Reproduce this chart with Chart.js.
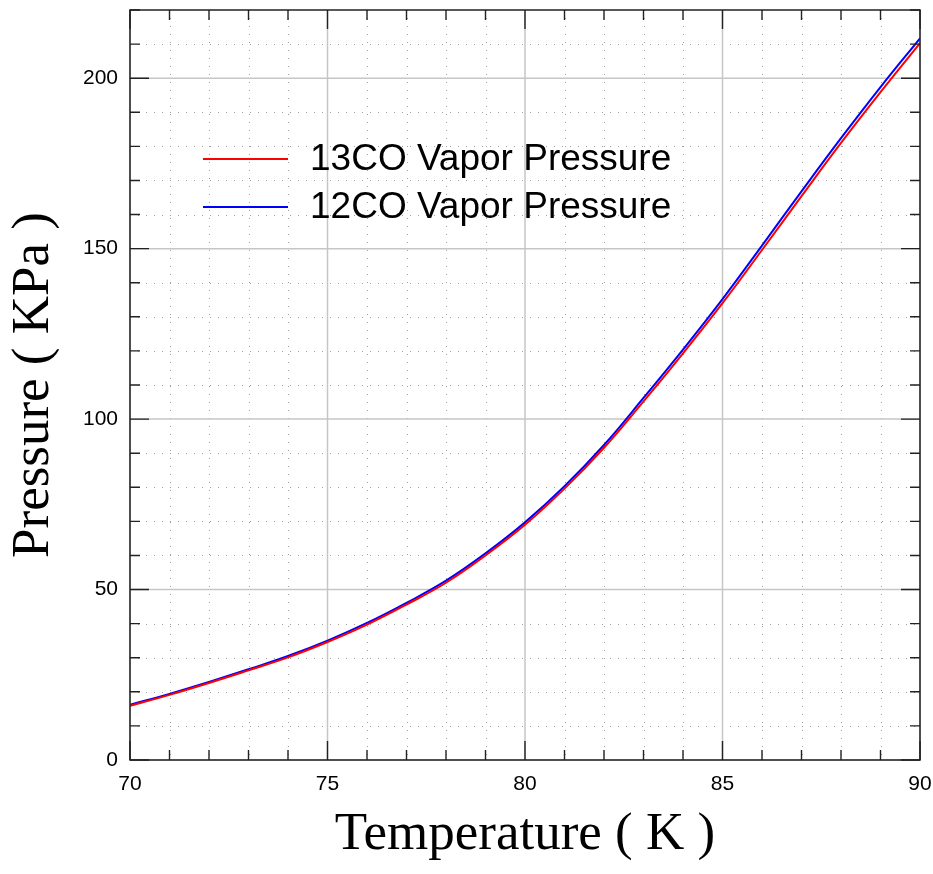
<!DOCTYPE html>
<html>
<head>
<meta charset="utf-8">
<script src="https://cdn.jsdelivr.net/npm/chart.js@4"></script>
<style>
  html, body { margin: 0; padding: 0; background: #fff; overflow: hidden; }
  #wrap { width: 933px; height: 874px; }
</style>
</head>
<body>
<div id="wrap"><canvas id="vp"></canvas></div>
<script>
// temperatures (K) and vapour pressures (kPa)
const temps = [70, 71, 72, 73, 74, 75, 76, 77, 78, 79, 80, 81, 82, 83, 84, 85, 86, 87, 88, 89, 90];
const co13 = [15.9, 19.1, 22.6, 26.3, 30.1, 34.6, 39.7, 45.6, 52.0, 60.0, 69.0, 79.6, 91.6, 105.2, 119.3, 134.0, 149.6, 165.4, 181.0, 195.9, 210.3];
const co12 = [16.2, 19.4, 22.9, 26.6, 30.5, 35.0, 40.2, 46.1, 52.6, 60.6, 69.7, 80.3, 92.4, 106.2, 120.4, 135.2, 150.9, 166.8, 182.4, 197.4, 211.7];
const seriesNames = ['13CO Vapor Pressure', '12CO Vapor Pressure'];
const xTicks = [70, 75, 80, 85, 90];
const yTicks = [0, 50, 100, 150, 200];

const sans = "'Liberation Sans', Arial, sans-serif";
const serif = "'Liberation Serif', 'Times New Roman', serif";

// minor/major grid, inward ticks on all four sides, frame
const frame = {
    id: 'frame',
    beforeDatasetsDraw(chart) {
        const {ctx, chartArea: a, scales: {x, y}} = chart;
        ctx.save();
        // dotted minor grid
        ctx.strokeStyle = '#a0a0a0';
        ctx.lineWidth = 1;
        ctx.setLineDash([1, 7]);
        for (let t = 71; t < 90; t++) {
            if (t % 5 === 0) continue;
            const px = Math.round(x.getPixelForValue(t)) + 0.5;
            ctx.beginPath(); ctx.moveTo(px, a.top); ctx.lineTo(px, a.bottom); ctx.stroke();
        }
        for (let v = 10; v < 220; v += 10) {
            if (v % 50 === 0) continue;
            const py = Math.round(y.getPixelForValue(v)) + 0.5;
            ctx.beginPath(); ctx.moveTo(a.left, py); ctx.lineTo(a.right, py); ctx.stroke();
        }
        // solid major grid
        ctx.setLineDash([]);
        ctx.strokeStyle = '#c6c6c6';
        ctx.lineWidth = 1.5;
        xTicks.forEach(t => {
            const px = x.getPixelForValue(t);
            ctx.beginPath(); ctx.moveTo(px, a.top); ctx.lineTo(px, a.bottom); ctx.stroke();
        });
        yTicks.forEach(v => {
            const py = y.getPixelForValue(v);
            ctx.beginPath(); ctx.moveTo(a.left, py); ctx.lineTo(a.right, py); ctx.stroke();
        });
        ctx.restore();
    },
    afterDatasetsDraw(chart) {
        const {ctx, chartArea: a, scales: {x, y}} = chart;
        ctx.save();
        ctx.strokeStyle = '#222';
        ctx.lineWidth = 1.4;
        for (let t = 70; t <= 90; t++) {
            const len = t % 5 === 0 ? 19 : 10;
            const px = x.getPixelForValue(t);
            ctx.beginPath();
            ctx.moveTo(px, a.bottom); ctx.lineTo(px, a.bottom - len);
            ctx.moveTo(px, a.top); ctx.lineTo(px, a.top + len);
            ctx.stroke();
        }
        for (let v = 0; v <= 220; v += 10) {
            const len = v % 50 === 0 ? 19 : 10;
            const py = y.getPixelForValue(v);
            ctx.beginPath();
            ctx.moveTo(a.left, py); ctx.lineTo(a.left + len, py);
            ctx.moveTo(a.right, py); ctx.lineTo(a.right - len, py);
            ctx.stroke();
        }
        ctx.lineWidth = 1.5;
        ctx.strokeRect(a.left, a.top, a.right - a.left, a.bottom - a.top);
        ctx.restore();
    },
    afterDraw(chart) {
        // legend, placed inside the plot like the original
        const ctx = chart.ctx;
        ctx.save();
        ctx.font = '37px ' + sans;
        ctx.textBaseline = 'middle';
        ctx.fillStyle = '#000';
        chart.data.datasets.forEach((ds, i) => {
            const ly = 159 + i * 48;
            ctx.strokeStyle = ds.borderColor;
            ctx.lineWidth = 2;
            ctx.beginPath(); ctx.moveTo(203, ly); ctx.lineTo(288, ly); ctx.stroke();
            ctx.fillText(ds.label, 310, ly + 1);
        });
        ctx.restore();
    }
};

new Chart(document.getElementById('vp'), {
    type: 'line',
    data: {
        datasets: [
            { label: seriesNames[0], data: temps.map((t, i) => ({x: t, y: co13[i]})), borderColor: '#ff0000' },
            { label: seriesNames[1], data: temps.map((t, i) => ({x: t, y: co12[i]})), borderColor: '#0000ff' }
        ]
    },
    options: {
        responsive: true,
        maintainAspectRatio: false,
        animation: false,
        layout: { padding: { top: 10, right: 13, left: 0, bottom: 0 } },
        elements: {
            point: { radius: 0 },
            line: { borderWidth: 2, tension: 0.4, fill: false }
        },
        plugins: { legend: { display: false }, tooltip: { enabled: false } },
        scales: {
            x: {
                type: 'linear', min: 70, max: 90,
                afterBuildTicks: s => { s.ticks = xTicks.map(v => ({value: v})); },
                afterFit: s => { s.height = 114; s.paddingLeft = 0; s.paddingRight = 0; },
                grid: { display: false, drawTicks: false },
                border: { display: false },
                ticks: { color: '#000', padding: 12, maxRotation: 0, font: { family: sans, size: 21 } },
                title: { display: true, text: 'Temperature ( K )', color: '#000',
                         font: { family: serif, size: 53, lineHeight: 1 }, padding: { top: 0, bottom: 12 } }
            },
            y: {
                type: 'linear', min: 0, max: 220,
                afterBuildTicks: s => { s.ticks = yTicks.map(v => ({value: v})); },
                afterFit: s => { s.width = 130; s.paddingTop = 0; s.paddingBottom = 0; },
                grid: { display: false, drawTicks: false },
                border: { display: false },
                ticks: { color: '#000', padding: 12, font: { family: sans, size: 21 } },
                title: { display: true, text: 'Pressure ( KPa )', color: '#000',
                         font: { family: serif, size: 53, lineHeight: 1 }, padding: { top: 8, bottom: 0 } }
            }
        }
    },
    plugins: [frame]
});
</script>
</body>
</html>
